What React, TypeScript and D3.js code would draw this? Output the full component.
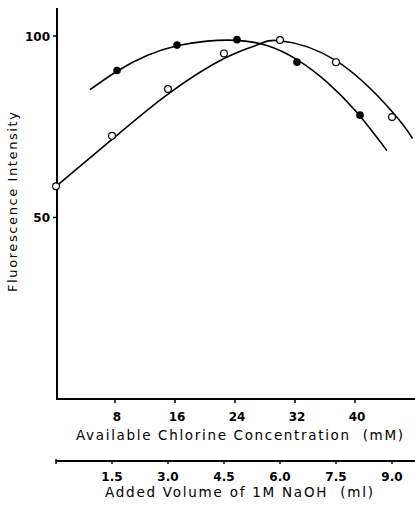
import React from "react";
import * as d3 from "d3";

const chlorineTicks = [8, 16, 24, 32, 40];
const naohTicks = [1.5, 3.0, 4.5, 6.0, 7.5, 9.0];
const yTicks = [50, 100];

// filled circles: x in mM of available chlorine
const filledX = [8, 16, 24, 32, 40.4];
const filledY = [90.5, 97.5, 99, 92.8, 78.2];

// open circles: x in ml of 1M NaOH
const openX = [0, 1.5, 3.0, 4.5, 6.0, 7.5, 9.0];
const openY = [58.6, 72.5, 85.4, 95.2, 98.9, 92.8, 77.7];

// hand-drawn fitted curves
const filledCurveX = [4.4, 8, 12, 16, 20, 24, 28, 32, 36, 40, 44];
const filledCurveY = [85.2, 90.3, 94.6, 97.3, 98.6, 98.8, 97.4, 93.5, 87.3, 78.9, 68.4];
const openCurveX = [0, 1.5, 3.0, 4.5, 5.4, 6.0, 7.5, 9.0, 9.55];
const openCurveY = [58.6, 71.5, 84.0, 93.8, 97.6, 98.7, 93.2, 79.2, 71.8];

const W = 415;
const H = 508;

export default function App() {
  const xMM = d3.scaleLinear().domain([0, 8]).range([57, 117]);
  const xNa = d3.scaleLinear().domain([0, 1.5]).range([56, 112]);
  const y = d3.scaleLinear().domain([0, 100]).range([399, 36]);

  const filledLine = d3
    .line<number>()
    .x((d, i) => xMM(filledCurveX[i]))
    .y((d) => y(d))
    .curve(d3.curveNatural);
  const openLine = d3
    .line<number>()
    .x((d, i) => xNa(openCurveX[i]))
    .y((d) => y(d))
    .curve(d3.curveNatural);

  const font = "'DejaVu Sans', sans-serif";

  return (
    <svg
      width={W}
      height={H}
      style={{ position: "absolute", left: 0, top: 0, background: "#fff" }}
      fontFamily={font}
    >
      {/* y axis */}
      <line x1={57} x2={57} y1={8} y2={399} stroke="#000" strokeWidth={2} />
      {yTicks.map((t) => (
        <g key={t}>
          <line x1={53} x2={57} y1={y(t)} y2={y(t)} stroke="#000" strokeWidth={1.5} />
          <text x={50} y={y(t) + 4.5} textAnchor="end" fontSize={12} fontWeight="bold">
            {t}
          </text>
        </g>
      ))}
      <text
        transform={`translate(17,${202}) rotate(-90)`}
        textAnchor="middle"
        fontSize={13}
        textLength={180}
        lengthAdjust="spacing"
      >
        Fluorescence Intensity
      </text>

      {/* chlorine axis */}
      <line x1={56} x2={415} y1={399} y2={399} stroke="#000" strokeWidth={2} />
      {chlorineTicks.map((t) => (
        <g key={t}>
          <line x1={xMM(t) - 2} x2={xMM(t) - 2} y1={399} y2={403} stroke="#000" strokeWidth={1.5} />
          <text x={xMM(t)} y={421} textAnchor="middle" fontSize={12} fontWeight="bold">
            {t}
          </text>
        </g>
      ))}
      <text x={76} y={440} fontSize={13.5} textLength={327} lengthAdjust="spacing" xmlSpace="preserve">
        Available Chlorine Concentration  (mM)
      </text>

      {/* NaOH axis */}
      <line x1={56} x2={415} y1={461} y2={461} stroke="#000" strokeWidth={2} />
      <line x1={56} x2={56} y1={459} y2={464} stroke="#000" strokeWidth={1.5} />
      {naohTicks.map((t) => (
        <g key={t}>
          <line x1={xNa(t)} x2={xNa(t)} y1={461} y2={464} stroke="#000" strokeWidth={1.5} />
          <text x={xNa(t)} y={481} textAnchor="middle" fontSize={12} fontWeight="bold">
            {t.toFixed(1)}
          </text>
        </g>
      ))}
      <text x={105} y={497} fontSize={13.5} textLength={268} lengthAdjust="spacing" xmlSpace="preserve">
        Added Volume of 1M NaOH  (ml)
      </text>

      {/* curves */}
      <path d={filledLine(filledCurveY) || ""} fill="none" stroke="#000" strokeWidth={1.6} />
      <path d={openLine(openCurveY) || ""} fill="none" stroke="#000" strokeWidth={1.6} />

      {filledX.map((v, i) => (
        <circle key={"f" + i} cx={xMM(v)} cy={y(filledY[i])} r={3.8} fill="#000" />
      ))}
      {openX.map((v, i) => (
        <circle
          key={"o" + i}
          cx={xNa(v)}
          cy={y(openY[i])}
          r={3.4}
          fill="#fff"
          stroke="#000"
          strokeWidth={1.2}
        />
      ))}
    </svg>
  );
}
